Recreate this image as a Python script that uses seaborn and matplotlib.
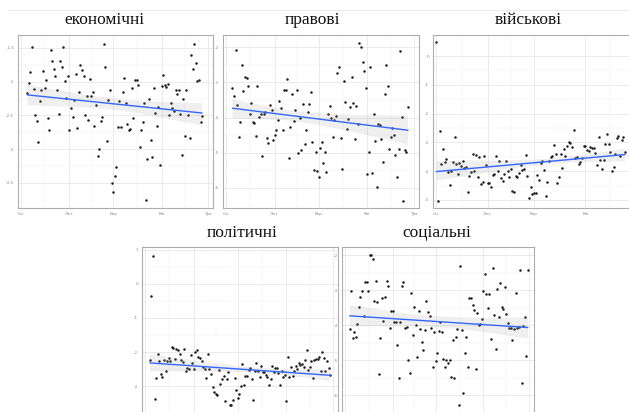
import matplotlib
matplotlib.use("Agg")
import numpy as np
import pandas as pd
import matplotlib.pyplot as plt
import seaborn as sns
from matplotlib.collections import PolyCollection
from matplotlib.lines import Line2D

# month ticks (day of year) and labels
month_days = [0, 31, 59, 90, 120]
month_labels = ["Січ", "Лют", "Бер", "Кві", "Тра"]

titles = ["економічні", "правові", "військові", "політичні", "соціальні"]

# first day (offset from 1 Jan) of each daily series
start_econ, start_law, start_mil, start_pol, start_soc = 4, 4, 0, 3, 3

econ = [-2.17, -2.02, -1.86, -1.49, -2.11, -2.49, -2.58, -2.90, -2.28, -2.13,
        -1.84, -2.10, -1.97, -2.54, -2.72, -1.53, -1.69, -1.82, -1.92, -2.12,
        -2.48, -1.70, -1.78, -1.49, -1.99, -2.24, -1.91, -2.71, -2.39, -2.53,
        -2.27, -1.88, -2.69, -2.16, -1.76, -1.83, -1.92, -2.50, -2.21, -2.57,
        -1.96, -2.21, -2.16, -2.65, -2.34, -3.10, -3.00, -2.58, -2.52, -1.44,
        -1.78, -2.88, -2.27, -2.12, -3.50, -3.63, -3.39, -3.26, -2.67, -2.28,
        -2.67, -2.16, -1.95, -2.32, -2.63, -2.71, -2.70, -2.09, -2.54, -1.98,
        -1.98, -2.05, -2.97, -2.72, -2.60, -2.31, -3.75, -3.14, -2.25, -2.87,
        -3.11, -2.09, -2.46, -2.66, -2.38, -3.24, -2.07, -1.90, -2.05, -2.08,
        -2.03, -2.50, -2.31, -2.39, -2.43, -2.13, -2.19, -2.13, -2.48, -3.09,
        -2.26, -2.81, -2.13, -2.49, -2.83, -1.61, -1.81, -1.44, -1.73, -1.99,
        -1.98, -2.59, -2.51]

law = [-3.16, -3.38, -2.08, -3.65, -4.55, -4.11, -2.50, -3.24, -2.84, -2.87,
       -3.10, -3.90, -3.58, -4.13, -4.16, -4.51, -3.10, -3.99, -3.89, -5.08,
       -3.89, -3.83, -4.58, -4.72, -3.65, -3.79, -4.65, -4.50, -4.35, -4.08,
       -3.52, -3.74, -4.36, -3.21, -3.20, -2.90, -5.16, -4.27, -3.32, -4.09,
       -3.78, -3.22, -5.00, -4.01, -4.92, -3.61, -4.75, -4.36, -3.84, -3.60,
       -3.27, -4.70, -5.49, -4.99, -5.53, -5.69, -4.86, -4.69, -5.29, -4.98,
       -5.56, -3.89, -3.67, -4.02, -4.54, -4.08, -3.94, -2.72, -2.56, -4.59,
       -5.45, -2.95, -3.55, -4.33, -4.03, -3.70, -2.84, -3.58, -4.62, -3.67,
       -4.17, -1.87, -1.98, -2.43, -2.68, -3.17, -5.60, -4.99, -2.55, -5.58,
       -3.89, -4.66, -5.98, -4.18, -4.20, -4.60, -5.26, -3.34, -2.50, -3.10,
       -4.90, -4.54, -4.29, -4.50, -5.06, -5.70, -4.88, -2.10, -3.98, -6.36,
       -4.93, -4.98, -3.70]

mil = [0.47, -5.02, -2.62, -3.74, -3.23, -3.68, -3.58, -4.04, -4.47, -3.98,
       -3.68, -2.82, -3.75, -4.10, -3.73, -3.83, -3.66, -3.90, -3.86, -4.72,
       -4.18, -4.02, -3.39, -4.00, -3.45, -4.21, -3.50, -4.43, -4.39, -3.46,
       -3.79, -4.41, -4.42, -4.56, -4.12, -4.11, -3.48, -4.01, -3.64, -4.25,
       -4.35, -4.11, -3.65, -3.98, -4.21, -3.93, -4.69, -4.71, -4.16, -4.21,
       -4.05, -3.79, -3.97, -3.91, -3.43, -4.18, -4.93, -4.56, -4.79, -4.77,
       -4.75, -4.12, -4.32, -3.70, -3.63, -3.95, -4.88, -4.36, -3.66, -3.51,
       -3.48, -3.08, -3.41, -4.42, -4.21, -3.39, -3.90, -3.24, -3.46, -3.14,
       -3.00, -3.03, -3.15, -2.58, -3.55, -3.50, -3.75, -3.67, -3.53, -3.12,
       -3.14, -3.28, -3.29, -3.15, -3.18, -3.19, -3.38, -3.78, -2.83, -3.61,
       -3.91, -3.61, -3.05, -2.71, -3.04, -3.35, -4.01, -3.85, -3.42, -2.84,
       -2.77, -3.49, -2.92, -2.83, -3.33]

pol = [-2.24, -0.37, 0.83, -3.38, -2.76, -2.07, -2.26, -2.63, -2.74, -2.23,
       -2.55, -2.25, -2.16, -2.26, -1.85, -1.87, -2.21, -1.92, -1.93, -2.07,
       -2.24, -2.30, -1.90, -2.55, -2.48, -2.49, -2.09, -2.32, -2.49, -1.99,
       -1.94, -2.13, -2.18, -2.27, -2.45, -2.49, -2.75, -2.07, -2.49, -2.63,
       -3.01, -3.18, -3.23, -3.25, -2.53, -2.94, -2.80, -2.70, -3.43, -2.80,
       -2.58, -3.56, -3.54, -3.39, -2.76, -3.11, -3.35, -3.22, -2.99, -2.36,
       -2.97, -2.71, -2.71, -2.53, -2.48, -2.79, -3.40, -2.54, -2.33, -2.55,
       -2.72, -2.40, -2.57, -2.58, -2.68, -2.73, -2.95, -2.80, -2.41, -2.57,
       -2.48, -2.48, -2.62, -2.97, -2.55, -2.74, -2.67, -3.43, -2.14, -2.72,
       -2.45, -2.71, -2.55, -2.40, -2.51, -2.32, -2.38, -2.34, -2.44, -2.22,
       -1.94, -2.53, -2.45, -2.27, -2.76, -2.22, -2.21, -2.20, -2.14, -2.54,
       -2.00, -2.16, -2.56, -2.26, -2.48, -2.67]

soc = [-4.11, -3.01, -4.36, -4.20, -4.33, -3.96, -3.46, -3.19, -3.01, -3.74,
       -2.76, -2.76, -3.03, -2.00, -1.98, -2.10, -3.31, -2.74, -3.34, -5.39,
       -4.36, -3.22, -3.88, -3.19, -2.74, -2.87, -4.08, -3.60, -3.60, -3.90,
       -3.90, -4.56, -5.50, -3.89, -2.87, -2.76, -4.08, -4.04, -4.99, -5.35,
       -3.08, -4.27, -3.47, -3.98, -4.91, -3.58, -4.10, -4.48, -4.69, -4.12,
       -3.31, -3.63, -3.74, -4.08, -5.19, -4.20, -5.01, -4.78, -4.15, -3.89,
       -4.18, -4.97, -5.18, -4.98, -5.08, -4.99, -5.47, -4.42, -5.50, -4.34,
       -4.11, -6.27, -2.29, -4.13, -5.92, -4.80, -4.32, -5.18, -3.23, -3.23,
       -3.43, -3.55, -5.25, -3.65, -4.00, -3.95, -3.82, -3.02, -2.52, -3.10,
       -3.51, -3.10, -4.39, -2.36, -3.70, -4.66, -2.96, -3.75, -2.78, -3.46,
       -3.53, -2.90, -3.67, -3.93, -4.08, -4.07, -4.41, -4.10, -3.07, -4.06,
       -4.04, -2.42, -5.64, -4.03, -3.76, -4.86, -2.42]

yticks = [
    [-3.5, -3.0, -2.5, -2.0, -1.5],
    [-6, -5, -4, -3, -2],
    [-5, -4, -3, -2, -1, 0],
    [-3, -2, -1, 0, 1],
    [-6, -5, -4, -3, -2],
]
ylims = [(-3.87, -1.31), (-6.57, -1.65), (-5.28, 0.73), (-3.99, 1.08), (-6.70, -1.76)]

series = [(start_econ, econ), (start_law, law), (start_mil, mil),
          (start_pol, pol), (start_soc, soc)]

W, H = 629, 412
# panel boxes in pixels: left, top, right, bottom
boxes = [(18, 35, 213, 208), (223, 35, 419, 208), (433, 35, 640, 208),
         (142, 247, 338, 420), (342, 247, 534, 420)]
title_pos = [(104, 20), (312, 20), (528, 20), (242, 233), (437, 233)]

sns.set_style("white")
fig = plt.figure(figsize=(W / 100, H / 100), dpi=100)
fig.patch.set_facecolor("white")

for i, (box, (start, vals)) in enumerate(zip(boxes, series)):
    l, t, r, b = box
    ax = fig.add_axes([l / W, 1 - b / H, (r - l) / W, (b - t) / H])
    df = pd.DataFrame({"day": np.arange(start, start + len(vals)), "value": vals})
    sns.regplot(data=df, x="day", y="value", ax=ax, ci=95,
                scatter_kws=dict(s=3.2, color="#1a1a1a", linewidths=0, alpha=1),
                line_kws=dict(color="#3366FF", lw=1.0))
    for coll in ax.collections:
        if isinstance(coll, PolyCollection):
            coll.set_facecolor((0.58, 0.58, 0.58, 0.42))
            coll.set_edgecolor("none")

    ax.set_xlim(-2, 123)
    ax.set_ylim(*ylims[i])
    # only labels that fall inside the visible picture
    if i < 2:
        ax.set_xticks(month_days)
        ax.set_xticklabels(month_labels)
    elif i == 2:
        ax.set_xticks(month_days[:4])
        ax.set_xticklabels(month_labels[:4])
    else:
        ax.set_xticks(month_days)
        ax.set_xticklabels([])
    ax.set_xticks([(a + c) / 2 for a, c in zip(month_days[:-1], month_days[1:])], minor=True)
    yt = yticks[i]
    ax.set_yticks(yt)
    ax.set_yticklabels([f"{v:g}" for v in yt])
    ax.set_yticks([(a + c) / 2 for a, c in zip(yt[:-1], yt[1:])], minor=True)
    ax.grid(which="major", color="#e3e3e3", lw=0.5)
    ax.grid(which="minor", color="#f0f0f0", lw=0.3)
    ax.set_axisbelow(True)
    ax.tick_params(which="both", length=1.2, width=0.4, color="#aaaaaa",
                   labelsize=3, labelcolor="#888888", pad=1.5)
    ax.tick_params(which="minor", length=0)
    for sp in ax.spines.values():
        sp.set_color("#adadad")
        sp.set_linewidth(0.8)
    ax.set_xlabel("")
    ax.set_ylabel("")

    cx, cy = title_pos[i]
    fig.text(cx / W, 1 - cy / H, titles[i], ha="center", va="center",
             fontsize=12.5, family="Liberation Serif", color="#111111")

fig.add_artist(Line2D([7 / W, 1], [1 - 10 / H, 1 - 10 / H], color="#e8e8e8", lw=0.6))

fig.savefig("out.png", dpi=100)
